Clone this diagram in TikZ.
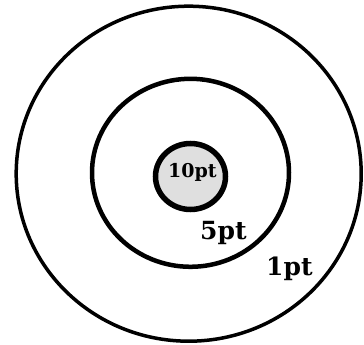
\documentclass[tikz,border=0pt]{standalone}
\usepackage{fontspec}
\setmainfont{DejaVu Serif}
\tikzset{ptlabel/.style={anchor=base west, inner sep=0pt, font=\bfseries}}
\begin{document}
\begin{tikzpicture}[x=1pt, y=1pt]
        \useasboundingbox (0,0) rectangle (364,345);
        \draw [line width=3.5pt] (188.7,171.3) ellipse [x radius=172.5, y radius=167.5];
        \draw [line width=4.5pt] (190.5,172.2) ellipse [x radius=98.5, y radius=94];
        \draw [line width=5.5pt, fill=gray!25] (190.5,168.5) ellipse [x radius=35, y radius=33];
        \node (ten) [ptlabel, font=\bfseries\fontsize{19}{21}\selectfont] at (168,167.5) {10pt};
        \node (five) [ptlabel, font=\bfseries\fontsize{25}{28}\selectfont] at (200,105) {5pt};
        \node (one) [ptlabel, font=\bfseries\fontsize{25}{28}\selectfont] at (266,69) {1pt};
\end{tikzpicture}
\end{document}
